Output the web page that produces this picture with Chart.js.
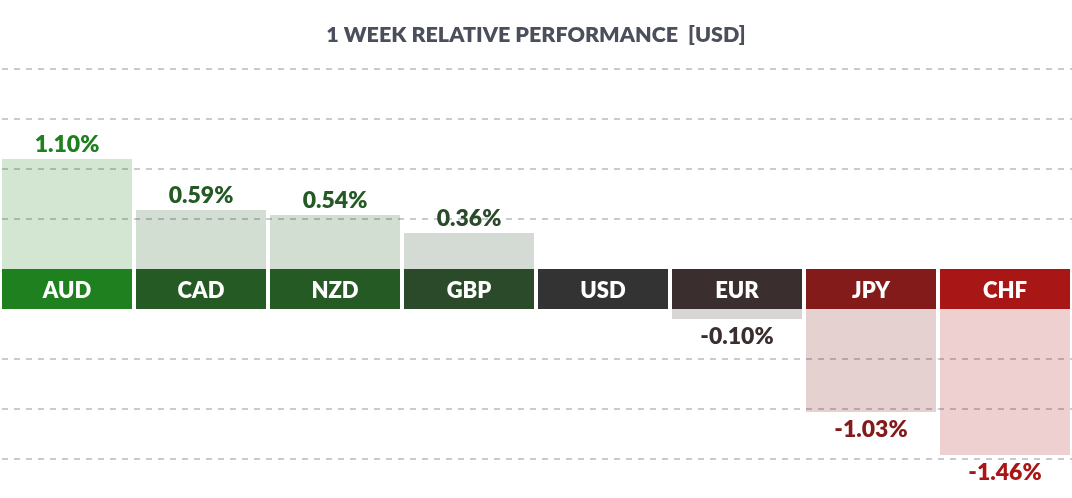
<!DOCTYPE html>
<html><head><meta charset="utf-8">
<script src="https://cdn.jsdelivr.net/npm/chart.js@4.4.1/dist/chart.umd.min.js"></script>
<style>html,body{margin:0;padding:0;background:#fff}#wrap{width:1072px;height:498px;position:relative}</style>
</head><body><div id="wrap"><canvas id="c"></canvas></div>
<script>
// ---- data ----
const categories = ['AUD', 'CAD', 'NZD', 'GBP', 'USD', 'EUR', 'JPY', 'CHF'];
const changes = [1.10, 0.59, 0.54, 0.36, 0.00, -0.10, -1.03, -1.46];
const gridStepsUp = [0.5, 1.0, 1.5, 2.0];
const gridStepsDown = [0.5, 1.0, 1.5];
const bandColors = ['#1e801e', '#255a25', '#255a25', '#2a4a2a', '#333333', '#3a2e2e', '#831b1b', '#a81616'];
const titleText = '1 WEEK RELATIVE PERFORMANCE  [USD]';

// ---- layout helpers ----
const BAND = 0.2; // half thickness of the label band, in axis units
function hexA(hex, a) {
  const n = parseInt(hex.slice(1), 16);
  return `rgba(${(n >> 16) & 255},${(n >> 8) & 255},${n & 255},${a})`;
}
const bandData = categories.map(() => [-BAND, BAND]);
const perfData = changes.map(v => v > 0 ? [BAND, BAND + v] : (v < 0 ? [-BAND, -BAND + v] : null));
const gridValues = gridStepsUp.map(s => BAND + s).concat(gridStepsDown.map(s => -BAND - s));

const labelPlugin = {
  id: 'perfLabels',
  afterDatasetsDraw(chart) {
    const ctx = chart.ctx;
    ctx.save();
    ctx.textAlign = 'center';
    ctx.textBaseline = 'alphabetic';
    chart.getDatasetMeta(0).data.forEach((el, i) => {
      const cy = (el.y + el.base) / 2;
      ctx.fillStyle = '#ffffff';
      ctx.font = '800 22px Lato';
      ctx.fillText(categories[i], el.x, cy + 8.5);
    });
    chart.getDatasetMeta(1).data.forEach((el, i) => {
      const v = changes[i];
      if (!v) return;
      const top = Math.min(el.y, el.base), bottom = Math.max(el.y, el.base);
      ctx.fillStyle = bandColors[i];
      ctx.font = '800 23px Lato';
      const txt = v.toFixed(2) + '%';
      if (v > 0) ctx.fillText(txt, el.x, top - 7);
      else ctx.fillText(txt, el.x, bottom + 25);
    });
    ctx.restore();
  }
};

new Chart(document.getElementById('c'), {
  type: 'bar',
  data: {
    labels: categories,
    datasets: [
      { data: bandData, backgroundColor: bandColors, grouped: false, order: 1 },
      { data: perfData, backgroundColor: bandColors.map(c => hexA(c, 0.2)), grouped: false, order: 2 }
    ]
  },
  options: {
    responsive: true,
    maintainAspectRatio: false,
    animation: false,
    layout: { padding: 0 },
    datasets: { bar: { barPercentage: 130 / 134, categoryPercentage: 1, borderWidth: 0, borderSkipped: false } },
    plugins: {
      legend: { display: false },
      tooltip: { enabled: false },
      title: {
        display: true, text: titleText, color: '#4a4f5b',
        font: { family: 'Lato', size: 21.5, weight: '800', lineHeight: 1.2 },
        padding: { top: 22.1, bottom: 21.1 }
      }
    },
    scales: {
      x: { display: false, offset: true },
      y: {
        display: true, min: -2.09, max: 2.2,
        afterBuildTicks: s => { s.ticks = gridValues.map(v => ({ value: v })); },
        ticks: { display: false },
        grid: { drawTicks: false, color: '#c9c9d1', lineWidth: 2 },
        border: { display: false, dash: [6, 6], dashOffset: 10 }
      }
    }
  },
  plugins: [labelPlugin]
});
</script></body></html>
